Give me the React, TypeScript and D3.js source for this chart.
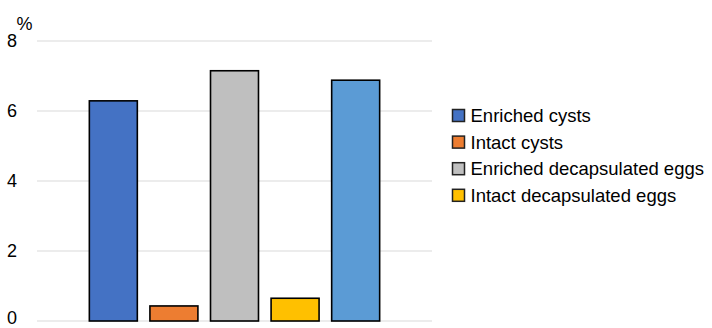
import React from "react";
import * as d3 from "d3";

const categories = ["Sample"];
const seriesNames = [
  "Enriched cysts",
  "Intact cysts",
  "Enriched decapsulated eggs",
  "Intact decapsulated eggs",
  "",
];
const seriesValues = [6.29, 0.43, 7.15, 0.65, 6.88];
const seriesColors = ["#4472C4", "#ED7D31", "#BFBFBF", "#FFC000", "#5B9BD5"];
const yTicks = [0, 2, 4, 6, 8];
const legendNames = seriesNames.slice(0, 4);

const W = 712;
const H = 328;
const FONT = "'Liberation Sans', Arial, sans-serif";

export default function App() {
  const y = d3.scaleLinear().domain([0, 8]).range([321, 41]);
  const x0 = d3
    .scaleBand<string>()
    .domain(categories)
    .range([37, 432])
    .paddingInner(0)
    .paddingOuter(0.152);
  const x1 = d3
    .scaleBand<string>()
    .domain(seriesValues.map((_, i) => String(i)))
    .range([0, x0.bandwidth()])
    .paddingInner(0.208)
    .paddingOuter(0.104);

  return (
    <svg
      width={W}
      height={H}
      style={{ position: "absolute", left: 0, top: 0, background: "#fff" }}
      fontFamily={FONT}
    >
      {yTicks.map((t) => (
        <g key={t}>
          <line
            x1={37}
            x2={432}
            y1={y(t)}
            y2={y(t)}
            stroke="#d9d9d9"
            strokeWidth={1.2}
          />
          <text
            x={12}
            y={Math.min(y(t), 317.5)}
            dy="0.35em"
            textAnchor="middle"
            fontSize={18}
            fill="#000"
          >
            {t}
          </text>
        </g>
      ))}
      <text x={16.5} y={30} fontSize={18} fill="#000">
        %
      </text>
      {categories.map((c) => (
        <g key={c} transform={`translate(${x0(c)},0)`}>
          {seriesValues.map((v, i) => (
            <rect
              key={i}
              x={x1(String(i))}
              y={y(v)}
              width={x1.bandwidth()}
              height={y(0) - y(v)}
              fill={seriesColors[i]}
              stroke="#000"
              strokeWidth={1.6}
            />
          ))}
        </g>
      ))}
      {legendNames.map((n, i) => {
        const cy = 115.5 + i * 26.6;
        return (
          <g key={n}>
            <rect
              x={452.5}
              y={cy - 6}
              width={12}
              height={12}
              fill={seriesColors[i]}
              stroke="#222"
              strokeWidth={1.5}
            />
            <text x={470.5} y={cy} dy="0.35em" fontSize={18.5} fill="#000">
              {n}
            </text>
          </g>
        );
      })}
    </svg>
  );
}
